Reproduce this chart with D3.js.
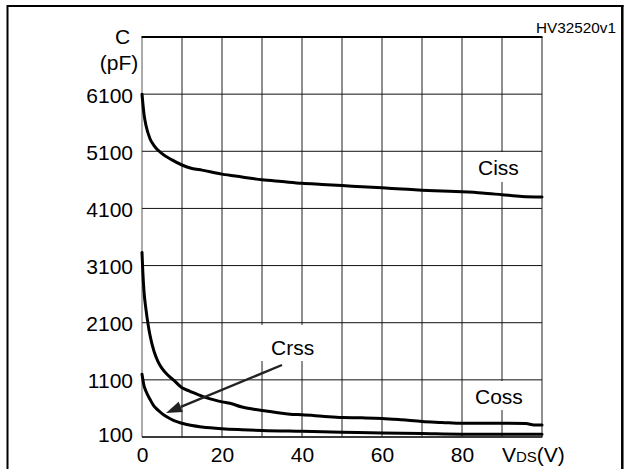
<!DOCTYPE html>
<html>
<head>
<meta charset="utf-8">
<script src="https://cdn.jsdelivr.net/npm/d3@7"></script>
<style>
  html, body { margin: 0; padding: 0; background: #fff; }
  svg { display: block; }
  text { font-family: "Liberation Sans", Arial, Helvetica, sans-serif; fill: #000; }
</style>
</head>
<body>
<svg id="chart" width="625" height="469"></svg>
<script>
// Capacitance vs drain-source voltage
const xTicks = [0, 20, 40, 60, 80];
const yTicks = [100, 1100, 2100, 3100, 4100, 5100, 6100];

const cissV = [0, 0.5, 1, 2, 3, 5, 7.5, 10, 12.5, 15, 20, 25, 30, 35, 40, 45, 50, 55, 60, 65, 70, 75, 80, 85, 90, 95, 100];
const cissC = [6100, 5750, 5550, 5320, 5200, 5060, 4950, 4860, 4800, 4770, 4700, 4650, 4600, 4570, 4540, 4520, 4500, 4480, 4460, 4440, 4420, 4405, 4390, 4370, 4340, 4310, 4300];

const cossV = [0, 0.2, 0.5, 1, 1.5, 2, 3, 4, 5, 6.5, 8, 10, 12, 14, 16, 18, 20, 22, 25, 28, 31, 34, 37, 40, 45, 50, 55, 60, 65, 70, 75, 80, 90, 96, 98, 100];
const cossC = [3330, 3000, 2650, 2330, 2080, 1880, 1600, 1420, 1300, 1180, 1090, 960, 900, 840, 790, 750, 715, 690, 625, 585, 555, 525, 500, 490, 465, 440, 435, 425, 400, 370, 355, 340, 340, 335, 310, 310];

const crssV = [0, 0.5, 1, 2, 3, 4, 5, 6.5, 8, 10, 12.5, 15, 20, 25, 30, 40, 50, 60, 70, 80, 90, 100];
const crssC = [1200, 1000, 900, 760, 640, 570, 510, 440, 385, 340, 300, 275, 245, 228, 215, 200, 185, 170, 160, 150, 150, 150];

// curve names, label anchor (V, pF) and white padding behind each label [left, top, right, bottom]
const labelNames = ["Ciss", "Coss", "Crss"];
const labelV = [84, 83.25, 32.25];
const labelC = [4685, 677, 1535];
const labelPad = [[6, 4, 6, 3], [4, 4, 4, 2], [13, 11, 4, 2]];

// arrow from the Crss label to its curve (V, pF)
const arrowFrom = [35, 1360];
const arrowTo = [6, 520];

const svg = d3.select("#chart");

const x = d3.scaleLinear().domain([0, 100]).range([142, 542]);
const y = d3.scaleLinear().domain([100, 7100]).range([437, 37]);

// outer frame
svg.append("line").attr("x1", 7).attr("x2", 623.5).attr("y1", 6).attr("y2", 6)
  .attr("stroke", "#000").attr("stroke-width", 2);
svg.append("line").attr("x1", 7.5).attr("x2", 7.5).attr("y1", 5).attr("y2", 469)
  .attr("stroke", "#000").attr("stroke-width", 2);
svg.append("line").attr("x1", 622.3).attr("x2", 622.3).attr("y1", 5).attr("y2", 469)
  .attr("stroke", "#000").attr("stroke-width", 2.5);

// grid
const grid = svg.append("g");
grid.selectAll(".vg").data(d3.range(0, 101, 10)).join("line")
  .attr("x1", d => x(d)).attr("x2", d => x(d))
  .attr("y1", y(7100)).attr("y2", y(100))
  .attr("stroke", d => (d === 0 ? "#666" : "#333")).attr("stroke-width", 1.1);
grid.selectAll(".hg").data(d3.range(100, 7101, 1000)).join("line")
  .attr("x1", x(0)).attr("x2", x(100))
  .attr("y1", d => y(d)).attr("y2", d => y(d))
  .attr("stroke", "#111").attr("stroke-width", 1);

// heavier top and bottom edges of the plot
svg.append("line").attr("x1", x(0) - 0.5).attr("x2", x(100) + 0.5).attr("y1", y(7100)).attr("y2", y(7100))
  .attr("stroke", "#000").attr("stroke-width", 2);
svg.append("line").attr("x1", x(0)).attr("x2", x(100) + 0.5).attr("y1", y(100)).attr("y2", y(100))
  .attr("stroke", "#222").attr("stroke-width", 1.6);

// axes (labels only)
const fs = 21;
const xAxis = svg.append("g").attr("transform", `translate(0,${y(100)})`)
  .call(d3.axisBottom(x).tickValues(xTicks).tickSize(0).tickPadding(10).tickFormat(d3.format("d")));
xAxis.select(".domain").remove();
xAxis.selectAll("text").attr("font-size", fs).style("font-family", "Liberation Sans, Arial, sans-serif").attr("fill", "#000");

const yAxis = svg.append("g").attr("transform", `translate(${x(0)},0)`)
  .call(d3.axisLeft(y).tickValues(yTicks).tickSize(0).tickPadding(9).tickFormat(d3.format("d")));
yAxis.select(".domain").remove();
yAxis.selectAll("text").attr("font-size", fs).style("font-family", "Liberation Sans, Arial, sans-serif")
  .attr("fill", "#000").attr("dy", null).attr("y", d => (d === 100 ? 4 : 8));

// axis titles
svg.append("text").attr("x", 122.5).attr("y", 43.5).attr("text-anchor", "middle").attr("font-size", fs).text("C");
svg.append("text").attr("x", 119).attr("y", 69.5).attr("text-anchor", "middle").attr("font-size", fs).text("(pF)");
const xt = svg.append("text").attr("x", 502).attr("y", 462).attr("font-size", fs);
xt.append("tspan").text("V");
xt.append("tspan").attr("font-size", 15).text("DS");
xt.append("tspan").text("(V)");

svg.append("text").attr("x", 616).attr("y", 33).attr("text-anchor", "end").attr("font-size", 15.3).text("HV32520v1");

// curves
const line = d3.line().x(d => x(d[0])).y(d => y(d[1])).curve(d3.curveMonotoneX);
const series = [
  d3.zip(cissV, cissC),
  d3.zip(cossV, cossC),
  d3.zip(crssV, crssC)
];
svg.append("g").selectAll("path").data(series).join("path")
  .attr("d", line).attr("fill", "none").attr("stroke", "#000")
  .attr("stroke-width", 3).attr("stroke-linejoin", "round").attr("stroke-linecap", "round");

// curve labels on white patches
const lab = svg.append("g");
labelNames.forEach((name, i) => {
  const g = lab.append("g");
  const r = g.append("rect").attr("fill", "#fff");
  const t = g.append("text").attr("x", x(labelV[i])).attr("y", y(labelC[i])).attr("font-size", fs).text(name);
  const b = t.node().getBBox();
  const p = labelPad[i];
  r.attr("x", b.x - p[0]).attr("y", b.y - p[1])
    .attr("width", b.width + p[0] + p[2]).attr("height", b.height + p[1] + p[3]);
});

// arrow pointing to Crss
const ax0 = x(arrowFrom[0]), ay0 = y(arrowFrom[1]);
const ax1 = x(arrowTo[0]), ay1 = y(arrowTo[1]);
const ang = Math.atan2(ay1 - ay0, ax1 - ax0);
const headLen = 16, headHalf = 5.5;
const bx = ax1 - headLen * Math.cos(ang), by = ay1 - headLen * Math.sin(ang);
svg.append("line").attr("x1", ax0).attr("y1", ay0).attr("x2", bx).attr("y2", by)
  .attr("stroke", "#222").attr("stroke-width", 2.4);
svg.append("path")
  .attr("d", d3.line()([
    [ax1, ay1],
    [bx + headHalf * Math.sin(ang), by - headHalf * Math.cos(ang)],
    [bx - headHalf * Math.sin(ang), by + headHalf * Math.cos(ang)]
  ]) + "Z")
  .attr("fill", "#222");
</script>
</body>
</html>
